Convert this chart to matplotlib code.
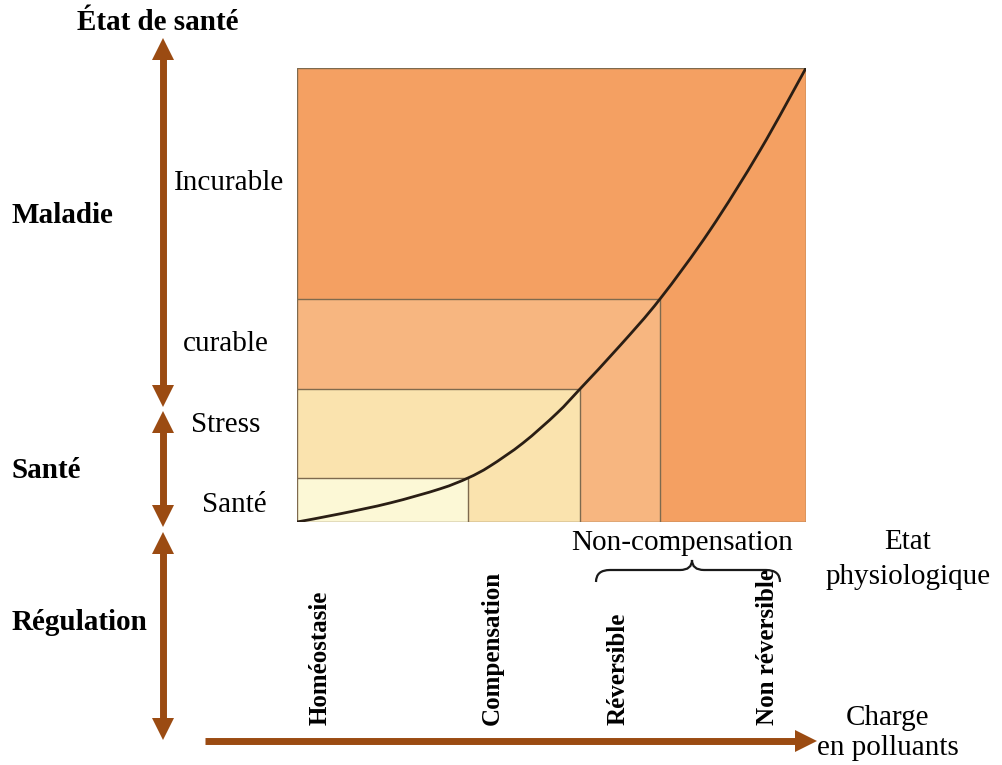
import matplotlib
matplotlib.use("Agg")
import matplotlib.pyplot as plt
from matplotlib.patches import Rectangle, PathPatch, Polygon
from matplotlib.path import Path

# ---- data (box units: 0..100 on both axes) ----
x_thresholds = [33.6, 55.6, 71.3]       # Homéostasie | Compensation | Réversible | Non réversible
y_thresholds = [9.7, 29.3, 49.1]        # Santé | Stress | curable | Incurable
curve_x = [0, 8.45, 18.3, 28.1, 33.6, 37.9, 44.4, 51.1, 55.6, 63.5, 71.3, 81.1, 91.0, 100]
curve_y = [0, 1.8, 4.2, 7.3, 9.7, 12.3, 17.4, 24.0, 29.3, 38.9, 49.1, 64.2, 81.9, 100]
level_labels = ["Santé", "Stress", "curable", "Incurable"]
group_labels = ["Maladie", "Santé", "Régulation"]
phys_labels = ["Homéostasie", "Compensation", "Réversible", "Non réversible"]

W, H = 1002, 765
fig = plt.figure(figsize=(W / 100, H / 100), dpi=100)
fig.patch.set_facecolor("white")

serif = ["Liberation Serif", "DejaVu Serif"]
brown = "#9B4B12"
edge = "#7E6A4E"
c_dark = "#F4A062"
c_med = "#F7B680"
c_yel = "#FAE3AE"
c_light = "#FCF8D6"

# main box axes
bx0, bx1, by0, by1 = 297, 806, 68, 522
ax = fig.add_axes([bx0 / W, (H - by1) / H, (bx1 - bx0) / W, (by1 - by0) / H])
ax.set_xlim(0, 100)
ax.set_ylim(0, 100)
ax.axis("off")

ax.add_patch(Rectangle((0, 0), 100, 100, facecolor=c_dark, edgecolor=edge, lw=1.0))
ax.add_patch(Rectangle((0, 0), x_thresholds[2], y_thresholds[2], facecolor=c_med, edgecolor=edge, lw=1.0))
ax.add_patch(Rectangle((0, 0), x_thresholds[1], y_thresholds[1], facecolor=c_yel, edgecolor=edge, lw=1.0))
ax.add_patch(Rectangle((0, 0), x_thresholds[0], y_thresholds[0], facecolor=c_light, edgecolor=edge, lw=1.0))

# smooth curve through the read points (Catmull-Rom -> cubic Bezier)
pts = list(zip(curve_x, curve_y))
verts = [pts[0]]
codes = [Path.MOVETO]
n = len(pts)
for i in range(n - 1):
    p0 = pts[i - 1] if i > 0 else pts[i]
    p1 = pts[i]
    p2 = pts[i + 1]
    p3 = pts[i + 2] if i + 2 < n else pts[i + 1]
    c1 = (p1[0] + (p2[0] - p0[0]) / 6, p1[1] + (p2[1] - p0[1]) / 6)
    c2 = (p2[0] - (p3[0] - p1[0]) / 6, p2[1] - (p3[1] - p1[1]) / 6)
    verts += [c1, c2, p2]
    codes += [Path.CURVE4] * 3
ax.add_patch(PathPatch(Path(verts, codes), facecolor="none", edgecolor="#2A1E14",
                       lw=2.0, capstyle="round", joinstyle="round"))

# overlay in pixel coordinates
ov = fig.add_axes([0, 0, 1, 1])
ov.set_xlim(0, W)
ov.set_ylim(H, 0)
ov.axis("off")
ov.patch.set_alpha(0)

HL, HW = 22, 11  # arrow head length / half width (px)

def head(xt, yt, dx, dy):
    bx, by = xt - dx * HL, yt - dy * HL
    px, py = -dy * HW, dx * HW
    ov.add_patch(Polygon([(xt, yt), (bx + px, by + py), (bx - px, by - py)],
                         closed=True, facecolor=brown, edgecolor="none"))

def shaft(x0, y0, x1, y1):
    ov.plot([x0, x1], [y0, y1], color=brown, lw=5, solid_capstyle="butt")

def varrow(x, y0, y1):
    shaft(x, y0 + HL - 1, x, y1 - HL + 1)
    head(x, y0, 0, -1)
    head(x, y1, 0, 1)

ax_x = 163
varrow(ax_x, 38, 407)
varrow(ax_x, 411, 527)
varrow(ax_x, 532, 740)
shaft(205, 741, 817 - HL + 1, 741)
head(817, 741, 1, 0)

fs = 21
ov.text(158, 22, "État de santé", fontsize=fs, fontweight="bold", family=serif, ha="center", va="center")
ov.text(12, 215, group_labels[0], fontsize=fs, fontweight="bold", family=serif, ha="left", va="center")
ov.text(12, 470, group_labels[1], fontsize=fs, fontweight="bold", family=serif, ha="left", va="center")
ov.text(12, 622, group_labels[2], fontsize=fs, fontweight="bold", family=serif, ha="left", va="center")

ov.text(229, 183, level_labels[3], fontsize=fs, family=serif, ha="center", va="center")
ov.text(226, 344, level_labels[2], fontsize=fs, family=serif, ha="center", va="center")
ov.text(226, 425, level_labels[1], fontsize=fs, family=serif, ha="center", va="center")
ov.text(234, 505, level_labels[0], fontsize=fs, family=serif, ha="center", va="center")

ov.text(682, 543, "Non-compensation", fontsize=fs, family=serif, ha="center", va="center")
ov.text(908, 542, "Etat", fontsize=fs, family=serif, ha="center", va="center")
ov.text(908, 577, "physiologique", fontsize=fs, family=serif, ha="center", va="center")
ov.text(888, 718, "Charge", fontsize=fs, family=serif, ha="center", va="center")
ov.text(888, 748, "en polluants", fontsize=fs, family=serif, ha="center", va="center")

for xc, lab in zip([320, 492, 618, 768], phys_labels):
    ov.text(xc, 725, lab, fontsize=18, fontweight="bold", family=serif,
            rotation=90, ha="center", va="bottom")

# curly brace under "Non-compensation"
bverts = [(596, 582), (596, 570), (610, 570),
          (680, 570), (692, 570), (692, 560),
          (692, 570), (704, 570),
          (766, 570), (780, 570), (780, 582)]
bcodes = [Path.MOVETO, Path.CURVE3, Path.CURVE3,
          Path.LINETO, Path.CURVE3, Path.CURVE3,
          Path.CURVE3, Path.CURVE3,
          Path.LINETO, Path.CURVE3, Path.CURVE3]
ov.add_patch(PathPatch(Path(bverts, bcodes), facecolor="none", edgecolor="#1A1A1A", lw=1.6))

fig.savefig("out.png", dpi=100, facecolor="white")
